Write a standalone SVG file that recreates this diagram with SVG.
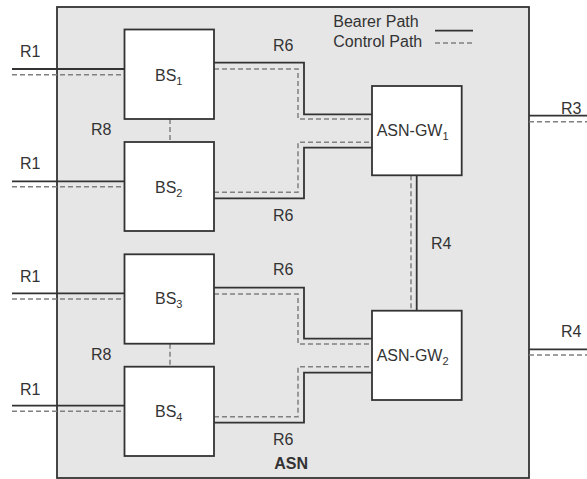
<svg xmlns="http://www.w3.org/2000/svg" width="587" height="479" viewBox="0 0 587 479">
<style>
text{font-family:"Liberation Sans",Arial,sans-serif;font-size:16px;fill:#333}
.sub{font-size:11px}
.node{fill:#fff;stroke:#333;stroke-width:1.8}
.s{fill:none;stroke:#333;stroke-width:1.8}
.d{fill:none;stroke:#808080;stroke-width:1.5;stroke-dasharray:5,3}
</style>
<rect id="asn" x="57" y="7" width="472" height="471" fill="#e6e6e6" stroke="#333" stroke-width="1.8"/>
<g id="connectors">
<path class="s" d="M12 69H124.5M12 181.3H124.5M12 293.3H124.5M12 405.7H124.5"/>
<path class="d" d="M12 74.7H124.5M12 186.7H124.5M12 299H124.5M12 411.3H124.5"/>
<path class="s" d="M214 62.7H304V114.3H372M214 198.3H304V147.7H372M214 287.7H304V338.7H372M214 422.7H304V372.7H372"/>
<path class="d" d="M214 69H298V119H372M214 192.3H298V142.3H372M214 294H298V344H372M214 416.7H298V366.7H372"/>
<path class="d" d="M170 119V142M170 343.7V366.7"/>
<path class="s" d="M416.7 175.3V310.7"/>
<path class="d" d="M411 175.3V310.7"/>
<path class="s" d="M529 115.7H587M529 349.3H587"/>
<path class="d" d="M529 121.7H587M529 355H587"/>
<path class="s" d="M435 30.7H473" stroke-width="1.2"/>
<path class="d" d="M435 43H473" stroke-width="1.2"/>
</g>
<g id="bs1"><rect class="node" x="124.5" y="29.5" width="89.5" height="89.5"/><text x="155" y="81">BS<tspan class="sub" dy="4">1</tspan></text></g>
<g id="bs2"><rect class="node" x="124.5" y="142" width="89.5" height="89"/><text x="155" y="193">BS<tspan class="sub" dy="4">2</tspan></text></g>
<g id="bs3"><rect class="node" x="124.5" y="254.3" width="89.5" height="89.4"/><text x="155" y="304">BS<tspan class="sub" dy="4">3</tspan></text></g>
<g id="bs4"><rect class="node" x="124.5" y="366.7" width="89.5" height="89.3"/><text x="155" y="417">BS<tspan class="sub" dy="4">4</tspan></text></g>
<g id="gw1"><rect class="node" x="372" y="86" width="89.7" height="89.3"/><text x="376.7" y="136">ASN-GW<tspan class="sub" dy="4">1</tspan></text></g>
<g id="gw2"><rect class="node" x="372" y="310.7" width="89.7" height="89.3"/><text x="376.7" y="361">ASN-GW<tspan class="sub" dy="4">2</tspan></text></g>
<g id="labels">
<text x="20" y="57">R1</text>
<text x="20" y="169">R1</text>
<text x="20" y="282">R1</text>
<text x="20" y="394.5">R1</text>
<text x="91" y="135">R8</text>
<text x="91" y="360">R8</text>
<text x="273" y="51">R6</text>
<text x="273" y="221">R6</text>
<text x="273" y="275">R6</text>
<text x="273" y="445">R6</text>
<text x="431" y="249">R4</text>
<text x="561" y="114">R3</text>
<text x="561" y="336.5">R4</text>
<text x="274.3" y="468.5" font-weight="bold">ASN</text>
<text x="333.3" y="27" font-size="15">Bearer Path</text>
<text x="333.3" y="47" font-size="15">Control Path</text>
</g>
</svg>
